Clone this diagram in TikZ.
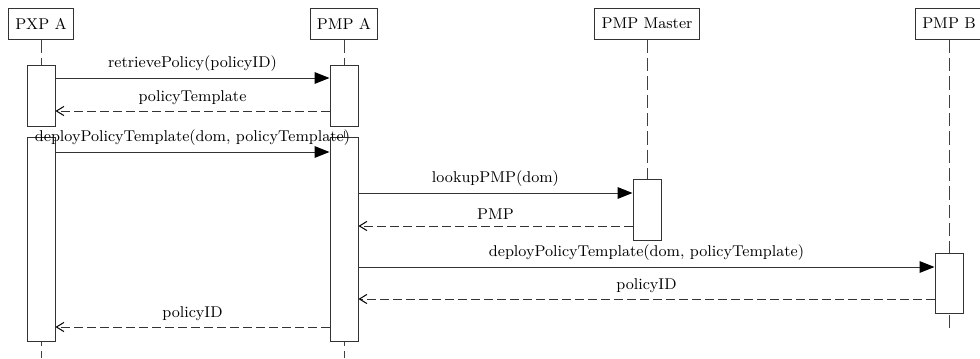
\documentclass[tikz,border=0pt]{standalone}
\usetikzlibrary{arrows.meta}

\begin{document}
\begin{tikzpicture}[x=0.6pt,y=-0.6pt,font=\fontsize{9.4}{11}\selectfont,actor/.style={shape=rectangle,draw=black!80,line width=0.6pt,minimum height=18.6pt,inner xsep=4pt,inner ysep=0pt},act/.style={shape=rectangle,draw=black!80,fill=white,line width=0.6pt,minimum width=16.8pt,inner sep=0pt},life/.style={draw=black!75,line width=0.6pt,dash pattern=on 8pt off 3pt},call/.style={draw=black!80,line width=0.6pt,-{Triangle[length=9pt,width=7pt,black]}},ret/.style={draw=black!80,line width=0.6pt,dash pattern=on 5.4pt off 2.4pt,-{Straight Barb[length=4.5pt,width=5.5pt,black]}},msg/.style={above=2.4pt,inner sep=1pt,text=black}]
\useasboundingbox (0,0) rectangle (980,358);
\def\xp{41};
\def\xa{344};
\def\xm{647};
\def\xb{949};
% participants
\node[actor] (PXP) at (\xp,23.5) {PXP A};
\node[actor] (PMPA) at (\xa,23.5) {PMP A};
\node[actor] (PMPM) at (\xm,23.5) {PMP Master};
\node[actor] (PMPB) at (\xb,23.5) {PMP B};
\coordinate (PXPend) at (\xp,358);
\coordinate (PMPAend) at (\xa,358);
\coordinate (PMPMend) at (\xm,179);
\coordinate (PMPBend) at (\xb,331);
\draw[life] (PXP) -- (PXPend);
\draw[life] (PMPA) -- (PMPAend);
\draw[life] (PMPM) -- (PMPMend);
\draw[life] (PMPB) -- (PMPBend);
% activations
\node[act,minimum height=36.6pt] (p1) at (\xp,95.5) {};
\node[act,minimum height=36.6pt] (a1) at (\xa,95.5) {};
\node[act,minimum height=122.4pt] (p2) at (\xp,239) {};
\node[act,minimum height=122.4pt] (a2) at (\xa,239) {};
\node[act,minimum height=36.6pt] (m1) at (\xm,209.5) {};
\node[act,minimum height=36pt] (b1) at (\xb,283) {};
% message levels
\coordinate (y1) at (0,78);
\coordinate (y2) at (0,111);
\coordinate (y3) at (0,152);
\coordinate (y4) at (0,193);
\coordinate (y5) at (0,226);
\coordinate (y6) at (0,267);
\coordinate (y7) at (0,299);
\coordinate (y8) at (0,327);
\draw[call] (p1.east |- y1) -- node[msg]{retrievePolicy(policyID)} (a1.west |- y1);
\draw[ret] (a1.west |- y2) -- node[msg]{policyTemplate} (p1.east |- y2);
\draw[call] (p2.east |- y3) -- node[msg]{deployPolicyTemplate(dom, policyTemplate)} (a2.west |- y3);
\draw[call] (a2.east |- y4) -- node[msg]{lookupPMP(dom)} (m1.west |- y4);
\draw[ret] (m1.west |- y5) -- node[msg]{PMP} (a2.east |- y5);
\draw[call] (a2.east |- y6) -- node[msg]{deployPolicyTemplate(dom, policyTemplate)} (b1.west |- y6);
\draw[ret] (b1.west |- y7) -- node[msg]{policyID} (a2.east |- y7);
\draw[ret] (a2.west |- y8) -- node[msg]{policyID} (p2.east |- y8);
\end{tikzpicture}
\end{document}
